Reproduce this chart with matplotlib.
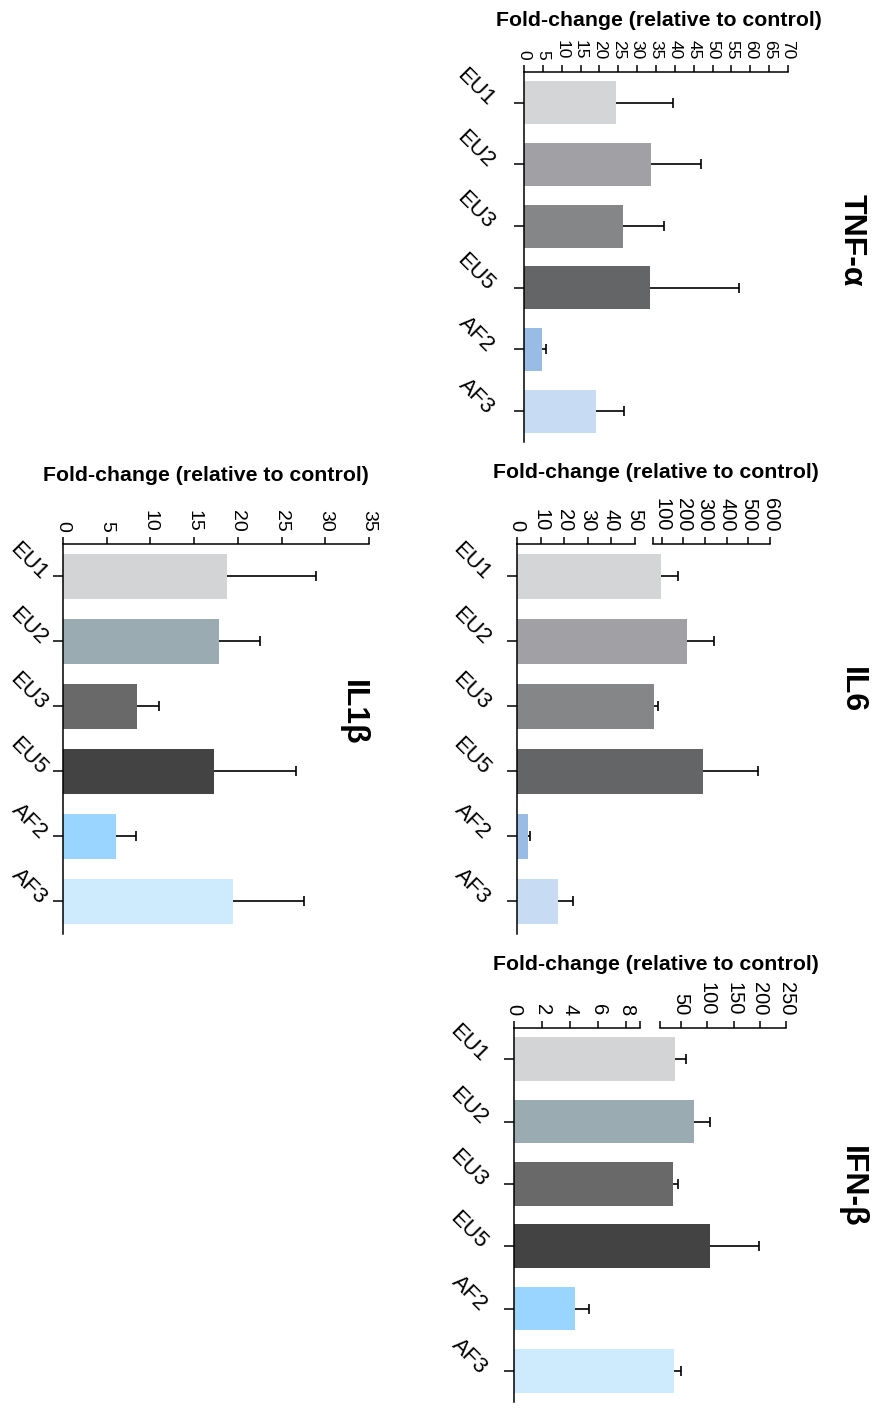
import numpy as np
import matplotlib.pyplot as plt

plt.rcParams['font.family'] = ['Liberation Sans', 'DejaVu Sans']

# data
cats = ['EU1', 'EU2', 'EU3', 'EU5', 'AF2', 'AF3']

tnf_mean = [24.5, 33.6, 26.3, 33.5, 4.7, 19.2]
tnf_err = [15.1, 13.4, 10.7, 23.5, 1.2, 7.3]

il6_mean = [97, 218, 67.5, 289, 4.8, 17.3]
il6_err = [80, 122, 14, 256, 0.9, 6.5]

ifn_mean = [39, 74, 34.7, 104.5, 4.35, 37.2]
ifn_err = [21, 32, 9.3, 93.5, 1.0, 12.2]

il1b_mean = [18.8, 17.9, 8.5, 17.25, 6.07, 19.4]
il1b_err = [10.1, 4.6, 2.46, 9.45, 2.23, 8.2]

tnf_ticks = list(range(0, 75, 5))
il6_ticks = [0, 10, 20, 30, 40, 50, 100, 200, 300, 400, 500, 600]
ifn_ticks = [0, 2, 4, 6, 8, 50, 100, 150, 200, 250]
il1b_ticks = list(range(0, 40, 5))

grey_cols = ['#d4d5d7', '#a1a1a5', '#858688', '#646567', '#99bce4', '#c7dcf2']
blue_cols = ['#d3d4d6', '#9aacb2', '#696969', '#434343', '#99d5fe', '#cdebfd']

W, H = 877, 1418
fig = plt.figure(figsize=(W / 100, H / 100), dpi=100)


def broken(a, b, c, f1=0.465, f2=0.537):
    # piecewise linear scale: 0..a, gap a..b, b..c
    def fwd(v):
        v = np.asarray(v, float)
        return np.where(v <= a, v / a * f1,
                        np.where(v <= b, f1 + (v - a) / (b - a) * (f2 - f1),
                                 f2 + (v - b) / (c - b) * (1 - f2)))

    def inv(u):
        u = np.asarray(u, float)
        return np.where(u <= f1, u / f1 * a,
                        np.where(u <= f2, a + (u - f1) / (f2 - f1) * (b - a),
                                 b + (u - f2) / (1 - f2) * (c - b)))
    return fwd, inv


def panel(box, means, errs, colors, xmax, ticks, title, title_xy, label_xy,
          tick_fs, cat_pad, brk=None):
    x0, x1, y0, y1 = box
    ax = fig.add_axes([x0 / W, 1 - y1 / H, (x1 - x0) / W, (y1 - y0) / H])
    if brk:
        ax.set_xscale('function', functions=broken(brk[0], brk[1], xmax))
    pos = np.arange(len(cats))
    means = np.array(means)
    ax.barh(pos, means, height=0.7, color=colors)
    eb = ax.errorbar(means, pos, xerr=[np.zeros(len(errs)), errs], fmt='none',
                     ecolor='black', elinewidth=1.2, capsize=3.8, capthick=1.2)
    for cl in eb[1]:
        if np.allclose(cl.get_xdata(), means):
            cl.set_visible(False)
    ax.set_xlim(0, xmax)
    ax.set_ylim(5.5, -0.5)

    ax.spines['right'].set_visible(False)
    ax.spines['bottom'].set_visible(False)
    ax.spines['top'].set_linewidth(1.1)
    ax.spines['left'].set_linewidth(1.1)
    ax.xaxis.tick_top()
    ax.set_xticks(ticks)
    ax.set_xticklabels([str(t) for t in ticks])
    ax.tick_params(axis='x', which='both', labelrotation=-90, labelsize=tick_fs,
                   length=5, width=1.1, pad=4)
    if brk:
        ax.spines['top'].set_bounds(0, brk[0])
        ax.plot([brk[1], xmax], [1, 1], color='black', lw=1.1,
                transform=ax.get_xaxis_transform(), clip_on=False)
        ax.set_xticks([b for b in brk if b not in ticks], minor=True)

    ax.set_yticks(pos)
    ax.set_yticklabels(cats, rotation=-45, ha='right', va='center',
                       rotation_mode='anchor', fontsize=16)
    ax.tick_params(axis='y', length=7, width=1.1, pad=cat_pad)

    fig.text(label_xy[0] / W, 1 - label_xy[1] / H, 'Fold-change (relative to control)',
             fontsize=15.3, fontweight='bold', ha='center', va='center')
    fig.text(title_xy[0] / W, 1 - title_xy[1] / H, title, rotation=-90,
             fontsize=23, fontweight='bold', ha='center', va='center')
    return ax


panel((524, 788, 72, 442), tnf_mean, tnf_err, grey_cols, 70, tnf_ticks,
      'TNF-α', (852, 240), (659, 20), 12.5, 17)
panel((517, 770, 544, 934), il6_mean, il6_err, grey_cols, 600, il6_ticks,
      'IL6', (852, 690), (656, 473), 14.5, 15, brk=(50, 60))
panel((514, 786, 1028, 1402), ifn_mean, ifn_err, blue_cols, 250, ifn_ticks,
      'IFN-β', (852, 1187), (656, 965), 14.5, 15, brk=(9, 10))
panel((63, 369, 544, 934), il1b_mean, il1b_err, blue_cols, 35, il1b_ticks,
      'IL1β', (353, 713), (206, 476), 14, 7)

fig.savefig('out.png', dpi=100)
